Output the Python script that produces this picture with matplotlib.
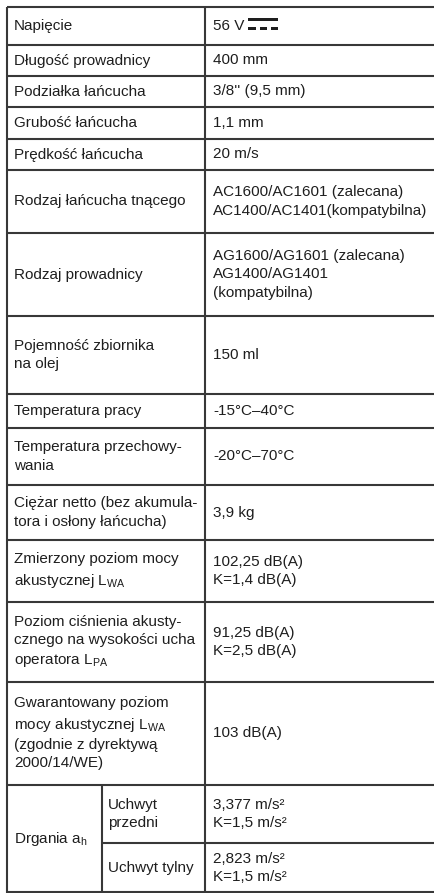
import matplotlib
matplotlib.use("Agg")
import matplotlib.pyplot as plt
from matplotlib.patches import Rectangle

plt.rcParams['font.family'] = ['Liberation Sans', 'DejaVu Sans']
plt.rcParams['mathtext.fontset'] = 'custom'
plt.rcParams['mathtext.rm'] = 'Liberation Sans'
plt.rcParams['mathtext.it'] = 'Liberation Sans'

# ---- data ----
labels = [
    "Napięcie",
    "Długość prowadnicy",
    "Podziałka łańcucha",
    "Grubość łańcucha",
    "Prędkość łańcucha",
    "Rodzaj łańcucha tnącego",
    "Rodzaj prowadnicy",
    "Pojemność zbiornika\nna olej",
    "Temperatura pracy",
    "Temperatura przechowy-\nwania",
    "Ciężar netto (bez akumula-\ntora i osłony łańcucha)",
    "Zmierzony poziom mocy\nakustycznej L$_{\\mathrm{WA}}$",
    "Poziom ciśnienia akusty-\ncznego na wysokości ucha\noperatora L$_{\\mathrm{PA}}$",
    "Gwarantowany poziom\nmocy akustycznej L$_{\\mathrm{WA}}$\n(zgodnie z dyrektywą\n2000/14/WE)",
]
values = [
    "56 V",
    "400 mm",
    "3/8'' (9,5 mm)",
    "1,1 mm",
    "20 m/s",
    "AC1600/AC1601 (zalecana)\nAC1400/AC1401(kompatybilna)",
    "AG1600/AG1601 (zalecana)\nAG1400/AG1401\n(kompatybilna)",
    "150 ml",
    "-15°C–40°C",
    "-20°C–70°C",
    "3,9 kg",
    "102,25 dB(A)\nK=1,4 dB(A)",
    "91,25 dB(A)\nK=2,5 dB(A)",
    "103 dB(A)",
]
vib_label = "Drgania a$_{\\mathrm{h}}$"
vib_sub_labels = ["Uchwyt\nprzedni", "Uchwyt tylny"]
vib_values = ["3,377 m/s²\nK=1,5 m/s²", "2,823 m/s²\nK=1,5 m/s²"]

# ---- layout (pixels) ----
W, H = 435, 893
row_heights = [38, 31, 31, 32, 31, 63, 83, 78, 34, 57, 55, 62, 80, 103]
vib_heights = [58, 50]
top = 7
x_left, x_div, x_sub, x_right = 7, 205, 102, 436
line_color = "#383838"
text_color = "#1e1e1e"
fs = 11
lsp = 1.4

fig = plt.figure(figsize=(W / 100, H / 100), dpi=100)
ax = fig.add_axes([0, 0, 1, 1])
ax.set_xlim(0, W)
ax.set_ylim(H, 0)
ax.axis('off')

ys = [top]
for h in row_heights:
    ys.append(ys[-1] + h)
vib_ys = [ys[-1]]
for h in vib_heights:
    vib_ys.append(vib_ys[-1] + h)

def txt(x, y, s):
    return ax.text(x, y, s, ha='left', va='center', fontsize=fs, color=text_color,
                   linespacing=lsp)

for i, (lab, val) in enumerate(zip(labels, values)):
    yc = (ys[i] + ys[i + 1]) / 2
    txt(x_left + 7, yc, lab)
    t = txt(x_div + 8, yc, val)
    if i == 0:
        fig.canvas.draw()
        bb = t.get_window_extent().transformed(ax.transData.inverted())
        x0 = bb.x1 + 4
        wsym = 30
        gap = 3.5
        th = 3.2
        ax.add_patch(Rectangle((x0, yc - 8), wsym, th, color=text_color, lw=0))
        dw = (wsym - 2 * gap) / 3
        for k in range(3):
            ax.add_patch(Rectangle((x0 + k * (dw + gap), yc + 0.5), dw, th,
                                   color=text_color, lw=0))

# vibration block
yc = (vib_ys[0] + vib_ys[-1]) / 2
txt(x_left + 7, yc, vib_label)
for j in range(len(vib_heights)):
    yc = (vib_ys[j] + vib_ys[j + 1]) / 2
    txt(x_sub + 6, yc, vib_sub_labels[j])
    txt(x_div + 8, yc, vib_values[j])

# grid lines
ax.hlines(ys, x_left, x_right, color=line_color, lw=1.5)
ax.hlines(vib_ys[1:-1], x_sub, x_right, color=line_color, lw=1.5)
ax.hlines(vib_ys[-1] - 0.7, x_left, x_right, color=line_color, lw=1.5)
ax.vlines([x_left, x_div], top, vib_ys[-1], color=line_color, lw=1.5)
ax.vlines([x_sub], vib_ys[0], vib_ys[-1], color=line_color, lw=1.5)

fig.savefig("out.png", dpi=100, facecolor="white")
